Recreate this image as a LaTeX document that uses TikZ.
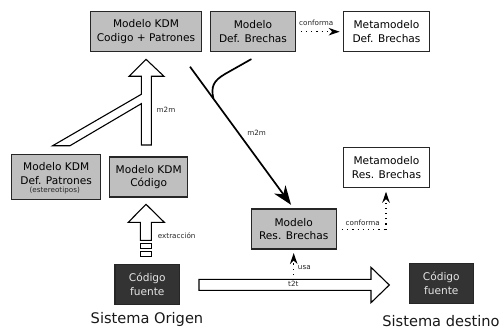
\documentclass[tikz,border=0pt]{standalone}
\usepackage{fontspec}
\setmainfont{DejaVu Sans}
\usetikzlibrary{arrows.meta}
\tikzset{
 x=1pt,y=-1pt,
 boxtext/.style={align=center,inner sep=0pt,font=\fontsize{10.6}{13.8}\selectfont},
 box/.style={boxtext,draw=black!85,line width=1.1pt},
 grey/.style={box,fill=black!25},
 whitebox/.style={box,fill=white},
 dark/.style={box,fill=black!80,text=white!90!black},
 small/.style={font=\fontsize{7.2}{8}\selectfont,inner sep=0pt,text=black!85},
 big/.style={font=\fontsize{14.6}{16}\selectfont,inner sep=0pt,text=black!90},
 fat/.style={draw=black,line width=1.1pt,fill=white,line join=miter},
 seg/.style={fat,minimum width=11pt,minimum height=5pt,inner sep=0pt},
 dots/.style={draw=black,line width=1.1pt,dash pattern=on 1.2pt off 4pt},
 tip/.style={-{Stealth[length=11pt,width=7.5pt,inset=3.5pt]}},
 thickline/.style={draw=black,line width=1.7pt}
}
\begin{document}
\begin{tikzpicture}
\useasboundingbox (0,0) rectangle (501,329);
\fill[white] (0,0) rectangle (501,329);
% big arrow kdm
\path[fat] (141.3,145) -- (151.3,145) -- (151.3,76.3) -- (164,76.3) -- (146,59.3) -- (129,76.3) -- (141.3,76.3) -- (141.3,94.3) -- (52.7,145.7) -- (70,145.7) -- (141.3,103.7) -- cycle;
% extraction arrow
\path[fat] (140.3,240.3) -- (140.3,222.3) -- (128.3,222.3) -- (146,204.3) -- (164.3,222.3) -- (151.3,222.3) -- (151.3,240.3) -- cycle;
\node[seg] (s1) at (146,246.2) {};
\node[seg] (s2) at (146,254) {};
% t2t arrow
\path[fat] (199,279.3) -- (371,279.3) -- (371,267.3) -- (389.3,285) -- (371,302.7) -- (371,290.3) -- (199,290.3) -- cycle;
% nodes
\node[grey,minimum width=111pt,minimum height=40pt] (kdmcp) at (146,31.7) {Modelo KDM\\Codigo + Patrones};
\node[grey,minimum width=84.6pt,minimum height=40pt] (defb) at (253,31.7) {Modelo\\Def. Brechas};
\node[whitebox,minimum width=85.6pt,minimum height=40pt] (metad) at (386.5,31.7) {Metamodelo\\Def. Brechas};
\node[grey,minimum width=89pt,minimum height=45pt] (kdmdp) at (56.2,176.8) {};
\node[boxtext] (kdmdpt) at (56.2,173.2) {Modelo KDM\\Def. Patrones};
\node[small] (est) at (54.7,190.7) {(estereotipos)};
\node[grey,minimum width=78pt,minimum height=40pt] (kdmc) at (148.7,177) {Modelo KDM\\Código};
\node[dark,minimum width=64.7pt,minimum height=40pt] (cf1) at (147.3,284.3) {Código\\fuente};
\node[dark,minimum width=64pt,minimum height=40pt] (cf2) at (441.3,283.3) {Código\\fuente};
\node[grey,minimum width=85.3pt,minimum height=40pt] (resb) at (293.7,229) {Modelo\\Res. Brechas};
\node[whitebox,minimum width=85.6pt,minimum height=40pt] (metar) at (386.5,167.7) {Metamodelo\\Res. Brechas};
\node[big] (so) at (147,319) {Sistema Origen};
\node[big] (sd) at (441,321) {Sistema destino};
% m2m line
\coordinate (a) at (190,66.7);
\coordinate (c) at (251,59.3);
\coordinate (d) at (213.3,98);
\draw[thickline,line cap=round] (c) -- (225,74) .. controls (213,81) and (211,87) .. (d);
\draw[thickline,shorten >=4.5pt,-{Stealth[length=19pt,width=14pt,inset=6pt]}] (a) -- (resb.north);
% dotted
\draw[dots,tip,shorten <=5pt,shorten >=3.5pt] (defb.east) -- (metad.west);
\coordinate (f) at (386,229.7);
\draw[dots,shorten <=5pt] (resb.east |- f) -- (f);
\draw[dots,tip,shorten >=3.5pt] (f) -- (metar.south -| f);
\coordinate (u) at (293.7,275);
\draw[dots,tip,shorten >=3.5pt] (u) -- (resb.south);
% labels
\node[small] (l1) at (166,110.3) {m2m};
\node[small] (l2) at (256.7,133.3) {m2m};
\node[small] (l3) at (316.3,23.3) {conforma};
\node[small] (l4) at (362.7,223.3) {conforma};
\node[small] (l5) at (176.7,236) {extracción};
\node[small] (l6) at (304.3,267.3) {usa};
\node[small] (l7) at (293.3,284) {t2t};
\end{tikzpicture}
\end{document}
